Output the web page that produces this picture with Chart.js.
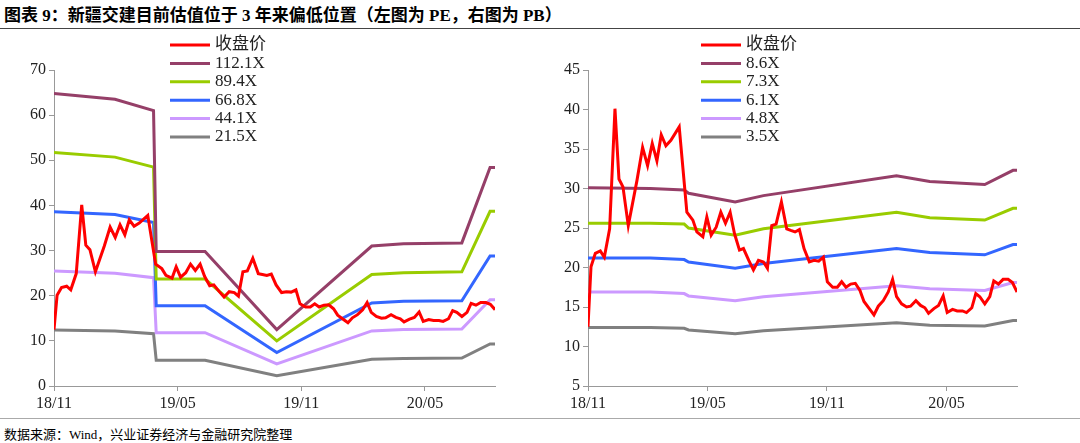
<!DOCTYPE html>
<html><head><meta charset="utf-8">
<script src="https://cdn.jsdelivr.net/npm/chart.js@4"></script>
<style>
body{margin:0;width:1080px;height:443px;background:#fff;position:relative;overflow:hidden;font-family:"Liberation Serif","Noto Sans CJK SC",serif}
#title{position:absolute;left:4px;top:1px;font:bold 17px "Liberation Serif","Noto Sans CJK SC";color:#000}
#rule1{position:absolute;left:0;top:28px;width:1080px;height:1px;background:#444}
#rule2{position:absolute;left:0;top:418px;width:1080px;height:1px;background:#aaa}
#src{position:absolute;left:4px;top:424px;font:13px "Liberation Serif","Noto Sans CJK SC";color:#000}
canvas{position:absolute}
</style></head><body>
<div id="title">图表 9：新疆交建目前估值位于 3 年来偏低位置（左图为 PE，右图为 PB）</div>
<div id="rule1"></div>
<div id="c1" style="position:absolute;left:0;top:30px;width:530px;height:390px"><canvas id="pe"></canvas></div>
<div id="c2" style="position:absolute;left:540px;top:30px;width:540px;height:390px"><canvas id="pb"></canvas></div>
<div id="rule2"></div>
<div id="src">数据来源：Wind，兴业证券经济与金融研究院整理</div>
<script>
// months since 2018/11
const tickMonths = [0, 6, 12, 18];
const tickLabels = ['18/11', '19/05', '19/11', '20/05'];

const pricePx = [143,152,165,180,192,208,224,236,248,264,290,307,322,336,350,363,377,392,417,440,458,470,488,500,513,528,542,556,570,583,598,610,626,640,655,670,682,695,708,724,740,752,765,778,792,808,822,836,850,862,878,892,905,918,932,946,960,972,988,1002,1015,1030,1045,1058,1070,1085,1100,1112,1128,1142,1155,1166,1182,1196,1210,1222,1238,1252,1268,1280,1296,1308,1320,1335,1350,1362,1376,1390,1405,1418,1432];
const priceMonths = pricePx.map(p => (p - 143) / 59.83);
const price = [12.5,20.1,21.8,22.1,21.3,24.9,40.1,31.2,30.2,25.3,31,35.2,32.9,35.7,33.5,36.8,35.4,36.1,37.8,27,26,24.5,23.9,26.4,24.1,25.1,27,25.6,27,24.3,22.2,22.4,20.9,19.7,20.9,20.7,19.9,25.3,25.5,28.3,24.9,24.7,24.5,24.8,22.4,20.7,20.9,20.8,21.3,18.2,17.5,17.5,18.2,17.5,17.9,18,17.1,15.7,14.8,14,15.1,15.8,16.9,18.5,16.3,15.4,15,15.1,15.8,15.2,14.9,14.2,14.8,15.2,16.4,14.3,14.7,14.5,14.5,14.3,14.9,16.7,16.3,15.4,16.3,18.3,17.9,18.5,18.5,18.1,16.9];

// PE bands
const peMonths = [0, 2.96, 4.83, 4.96, 7.33, 10.81, 15.42, 16.96, 19.79, 21.16, 21.4];
const pe112 = [64.8, 63.5, 61, 29.8, 29.8, 12.5, 31, 31.5, 31.7, 48.4, 48.4];
const pe89 = [51.7, 50.7, 48.5, 23.7, 23.7, 10, 24.7, 25.1, 25.3, 38.7, 38.7];
const pe67 = [38.6, 38, 36.2, 17.8, 17.8, 7.4, 18.4, 18.8, 18.9, 28.8, 28.8];
const pe44 = [25.5, 25, 24, 11.8, 11.8, 4.9, 12.2, 12.5, 12.6, 19.1, 19.1];
const pe22 = [12.4, 12.2, 11.6, 5.7, 5.7, 2.3, 5.9, 6.1, 6.2, 9.3, 9.3];

// PB bands
const pbMonths = [0, 3.13, 4.83, 5.05, 7.39, 8.81, 15.49, 17.16, 19.92, 21.34, 21.54];
const pb86 = [30.1, 30.0, 29.8, 29.4, 28.3, 29.1, 31.6, 30.9, 30.5, 32.3, 32.3];
const pb73 = [25.6, 25.6, 25.5, 25.0, 24.1, 24.9, 27.0, 26.3, 26.0, 27.5, 27.5];
const pb61 = [21.2, 21.2, 21.0, 20.7, 19.9, 20.5, 22.4, 21.9, 21.6, 22.9, 22.9];
const pb48 = [16.9, 16.9, 16.7, 16.4, 15.8, 16.3, 17.7, 17.3, 17.1, 18.1, 18.1];
const pb35 = [12.4, 12.4, 12.3, 12.1, 11.6, 12.0, 13.0, 12.7, 12.6, 13.3, 13.3];

const colors = ['#ff0000', '#953f68', '#99cc00', '#3366ff', '#cc99ff', '#808080'];
const xy = (xs, ys) => xs.map((x, i) => ({x: x, y: ys[i]}));

// legend drawn by hand at a fixed spot
function legendPlugin(lx, labels) {
    return {
        id: 'fixedLegend',
        afterDraw(chart) {
            const ctx = chart.ctx;
            ctx.save();
            ctx.font = '17px "Liberation Serif","Noto Sans CJK SC"';
            ctx.textBaseline = 'middle';
            labels.forEach((t, i) => {
                const y = 15 + i * 18.4;
                ctx.strokeStyle = colors[i];
                ctx.lineWidth = 3;
                ctx.beginPath(); ctx.moveTo(lx, y); ctx.lineTo(lx + 40, y); ctx.stroke();
                ctx.fillStyle = '#222';
                ctx.fillText(t, lx + 45, y);
            });
            ctx.restore();
        }
    };
}

function makeChart(id, sets, labels, yMin, yMax, yStep, xMax, yWidth, padRight, lx) {
    const ds = sets.map((d, i) => ({
        label: labels[i], data: d, borderColor: colors[i], borderWidth: 3,
        pointRadius: 0, tension: 0, fill: false, order: i === 0 ? 0 : 1
    }));
    return new Chart(document.getElementById(id), {
        type: 'line',
        data: {datasets: ds},
        options: {
            responsive: true, maintainAspectRatio: false, animation: false,
            layout: {padding: {top: 40, right: padRight, left: 0, bottom: 0}},
            plugins: {legend: {display: false}, tooltip: {enabled: false}},
            scales: {
                x: {
                    type: 'linear', min: 0, max: xMax,
                    afterBuildTicks: s => { s.ticks = tickMonths.map(v => ({value: v})); },
                    afterFit: s => { s.height = 34; },
                    ticks: {callback: v => tickLabels[tickMonths.indexOf(v)], color: '#222', maxRotation: 0,
                        font: {family: 'Liberation Serif', size: 16}},
                    grid: {drawOnChartArea: false, tickLength: 5, color: '#999'},
                    border: {color: '#999'}
                },
                y: {
                    min: yMin, max: yMax,
                    afterFit: s => { s.width = yWidth; },
                    ticks: {stepSize: yStep, color: '#222', font: {family: 'Liberation Serif', size: 16}},
                    grid: {drawOnChartArea: false, tickLength: 5, color: '#999'},
                    border: {color: '#999'}
                }
            }
        },
        plugins: [legendPlugin(lx, labels)]
    });
}

makeChart('pe', [xy(priceMonths.map(m => m * 21.4 / 21.54), price), xy(peMonths, pe112), xy(peMonths, pe89), xy(peMonths, pe67), xy(peMonths, pe44), xy(peMonths, pe22)],
    ['收盘价', '112.1X', '89.4X', '66.8X', '44.1X', '21.5X'], 0, 70, 10, 21.4, 54, 35, 170);
makeChart('pb', [xy(priceMonths, price), xy(pbMonths, pb86), xy(pbMonths, pb73), xy(pbMonths, pb61), xy(pbMonths, pb48), xy(pbMonths, pb35)],
    ['收盘价', '8.6X', '7.3X', '6.1X', '4.8X', '3.5X'], 5, 45, 5, 21.54, 48, 63, 161);
</script>
</body></html>
